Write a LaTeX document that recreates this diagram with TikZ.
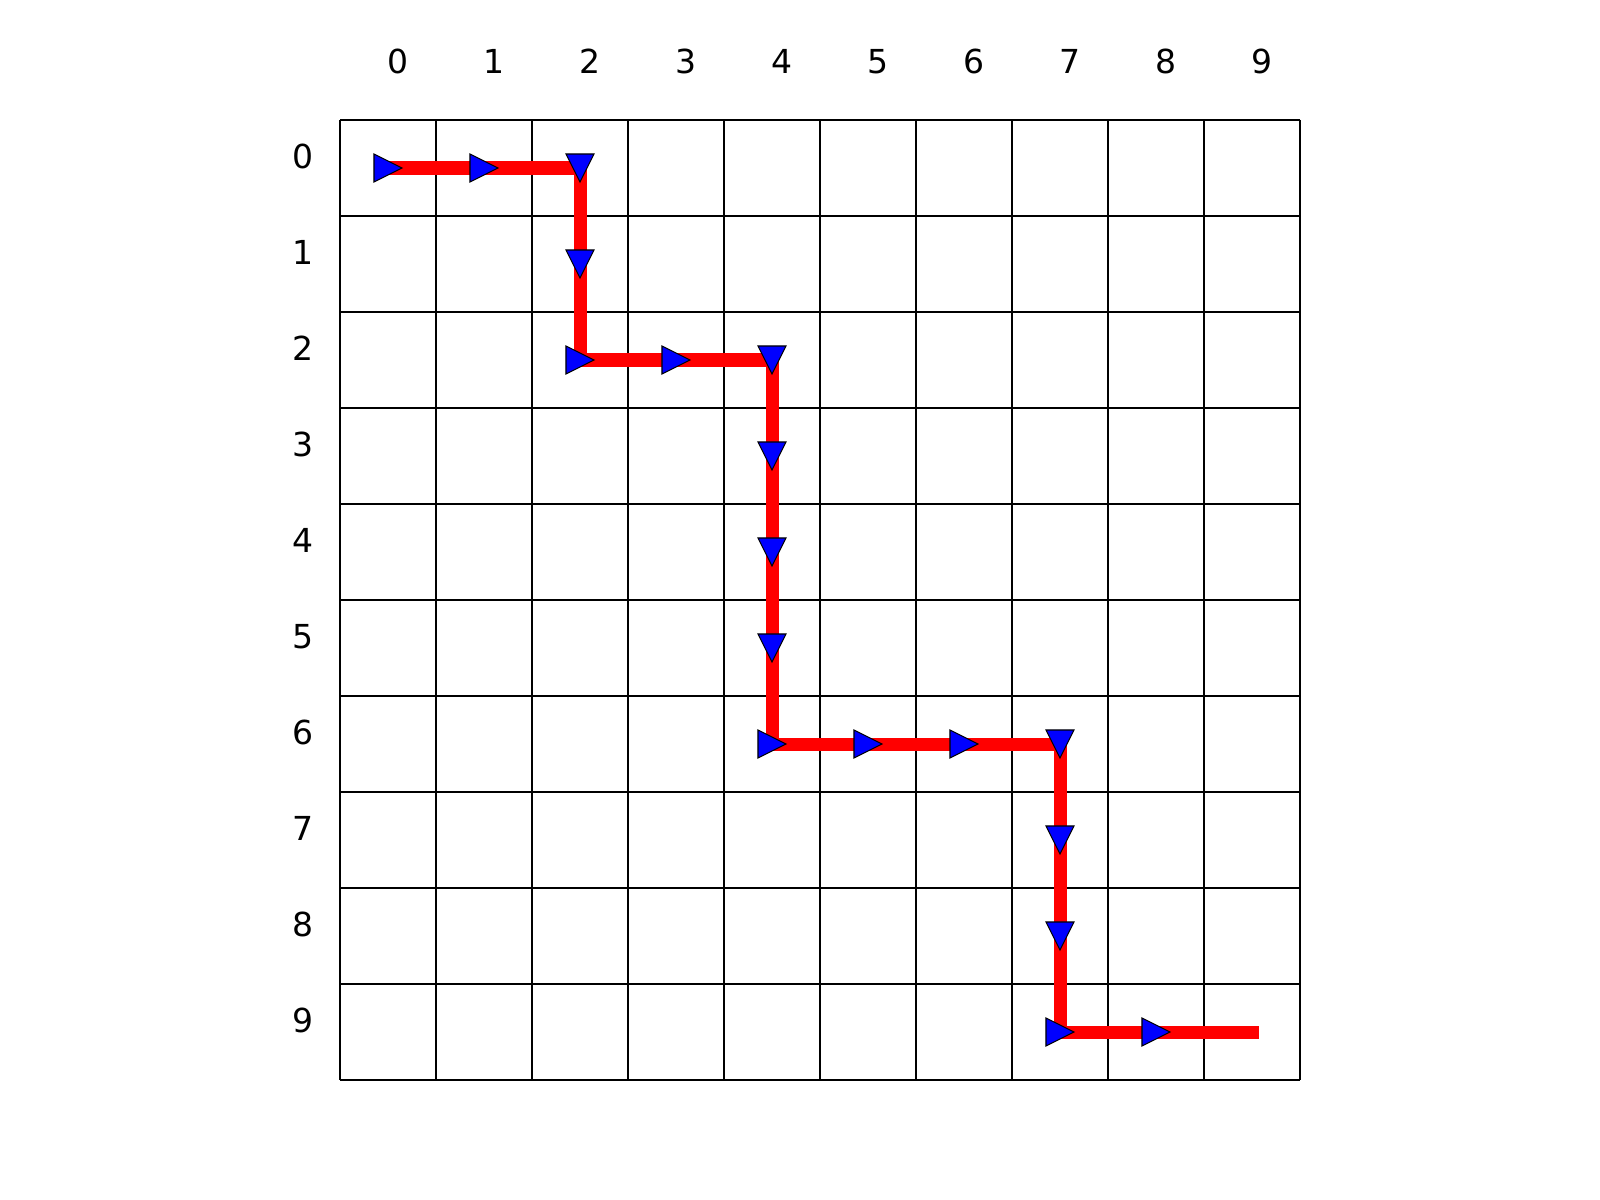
\documentclass[tikz,border=0pt]{standalone}
\usepackage{fontspec}
\setmainfont{DejaVu Sans}
\usepackage{tikz}
\usetikzlibrary{positioning}
\definecolor{pathred}{RGB}{255,0,0}
\definecolor{mkblue}{RGB}{0,0,255}
\def\mh{0.146}
\newcommand{\mkright}[2]{%
  \draw[mk] (#1+0.5-\mh,#2+0.5-\mh) -- (#1+0.5+\mh,#2+0.5) -- (#1+0.5-\mh,#2+0.5+\mh) -- cycle;}
\newcommand{\mkdown}[2]{%
  \draw[mk] (#1+0.5-\mh,#2+0.5-\mh) -- (#1+0.5+\mh,#2+0.5-\mh) -- (#1+0.5,#2+0.5+\mh) -- cycle;}
\tikzset{
  gline/.style={black, line width=0.8pt},
  route/.style={pathred, line width=3.7pt, line cap=rect, line join=miter},
  mk/.style={fill=mkblue, draw=black, line width=0.3pt, line join=miter},
  lab/.style={font=\fontsize{9.4}{11}\selectfont, inner sep=0pt,
    text height=6.9pt, text depth=0pt},
}
\begin{document}
\begin{tikzpicture}[x=0.96cm,y=-0.96cm]
\useasboundingbox (-3.5417,-1.25) rectangle (13.125,11.25);
% grid
\foreach \i in {0,...,10} {
  \draw[gline] (\i,0) -- (\i,10);
  \draw[gline] (0,\i) -- (10,\i);
}
% axis labels
\foreach \i in {0,...,9} {
  \node[lab] (col\i) at (\i+0.6,-0.615) {\i};
  \node[lab] (row\i) at (-0.39,\i+0.38) {\i};
}
% path
\draw[route] (0.5,0.5) -- (2.5,0.5) -- (2.5,2.5) -- (4.5,2.5) -- (4.5,6.5)
  -- (7.5,6.5) -- (7.5,9.5) -- (9.5,9.5);
% markers
\foreach \c/\r in {0/0,1/0,2/2,3/2,4/6,5/6,6/6,7/9,8/9} {\mkright{\c}{\r}}
\foreach \c/\r in {2/0,2/1,4/2,4/3,4/4,4/5,7/6,7/7,7/8} {\mkdown{\c}{\r}}
\end{tikzpicture}
\end{document}
